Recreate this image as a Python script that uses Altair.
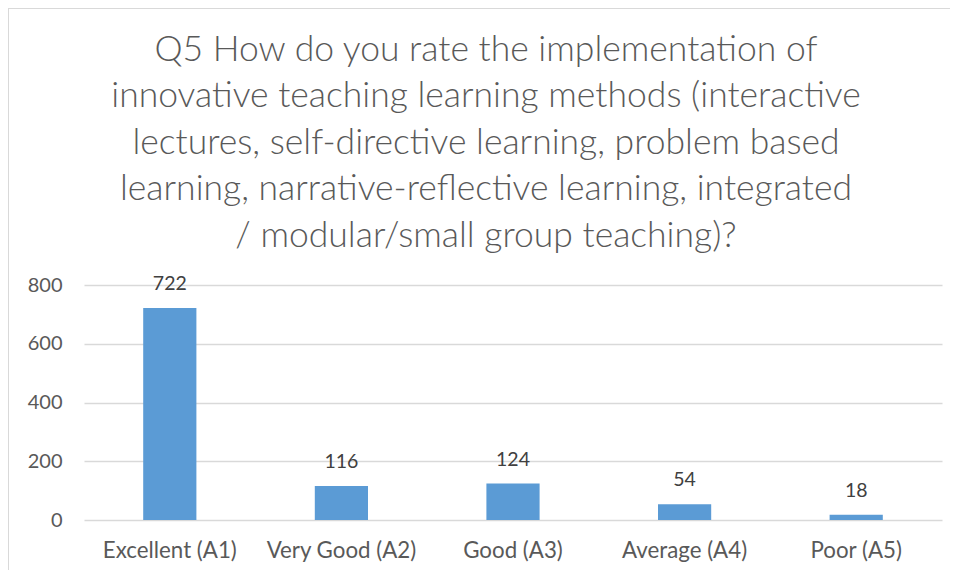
import altair as alt
import pandas as pd

categories = ["Excellent (A1)", "Very Good (A2)", "Good (A3)", "Average (A4)", "Poor (A5)"]
values = [722, 116, 124, 54, 18]
title_lines = [
    "Q5 How do you rate the implementation of",
    "innovative teaching learning methods (interactive",
    "lectures, self-directive learning, problem based",
    "learning, narrative-reflective learning, integrated",
    "/ modular/small group teaching)?",
]

df = pd.DataFrame({"cat": categories, "val": values})
FONT = "Lato"
GREY = "#595959"

base = alt.Chart(df)

bars = base.mark_bar(color="#5B9BD5").encode(
    x=alt.X("cat:N", sort=categories, title=None,
            scale=alt.Scale(paddingInner=0.69, paddingOuter=0.345),
            axis=alt.Axis(labelAngle=0, labelFontSize=22.3, labelColor=GREY, labelFont=FONT,
                          labelPadding=19, domain=False, ticks=False, grid=False)),
    y=alt.Y("val:Q", title=None,
            scale=alt.Scale(domain=[0, 800]),
            axis=alt.Axis(values=[0, 200, 400, 600, 800], labelFontSize=20, labelColor=GREY,
                          labelFont=FONT, labelPadding=22, domain=False, ticks=False,
                          gridColor="#d9d9d9", gridWidth=1.3)),
)

labels = base.mark_text(fontSize=19.5, font=FONT, color="#404040", baseline="middle", dy=-24).encode(
    x=alt.X("cat:N", sort=categories),
    y=alt.Y("val:Q"),
    text=alt.Text("val:Q"),
)

left_border = base.mark_rule(color="#d9d9d9", strokeWidth=1.5).encode(
    x=alt.value(-76), y=alt.value(-277), y2=alt.value(300)
)
top_border = base.mark_rule(color="#d9d9d9", strokeWidth=1.5).encode(
    x=alt.value(-76), x2=alt.value(900), y=alt.value(-277)
)

chart = alt.layer(left_border, top_border, bars, labels).properties(
    width=858,
    height=235,
    autosize=alt.AutoSizeParams(type="none"),
    padding={"left": 76, "top": 277, "right": 8, "bottom": 50},
    title=alt.TitleParams(
        text=title_lines, fontSize=35.5, font=FONT, color=GREY, fontWeight=300,
        anchor="middle", dx=-27, offset=0, dy=247, lineHeight=46.5,
    ),
).configure_view(stroke=None)

chart.save("out.html", embed_options={"renderer": "svg", "actions": False})
